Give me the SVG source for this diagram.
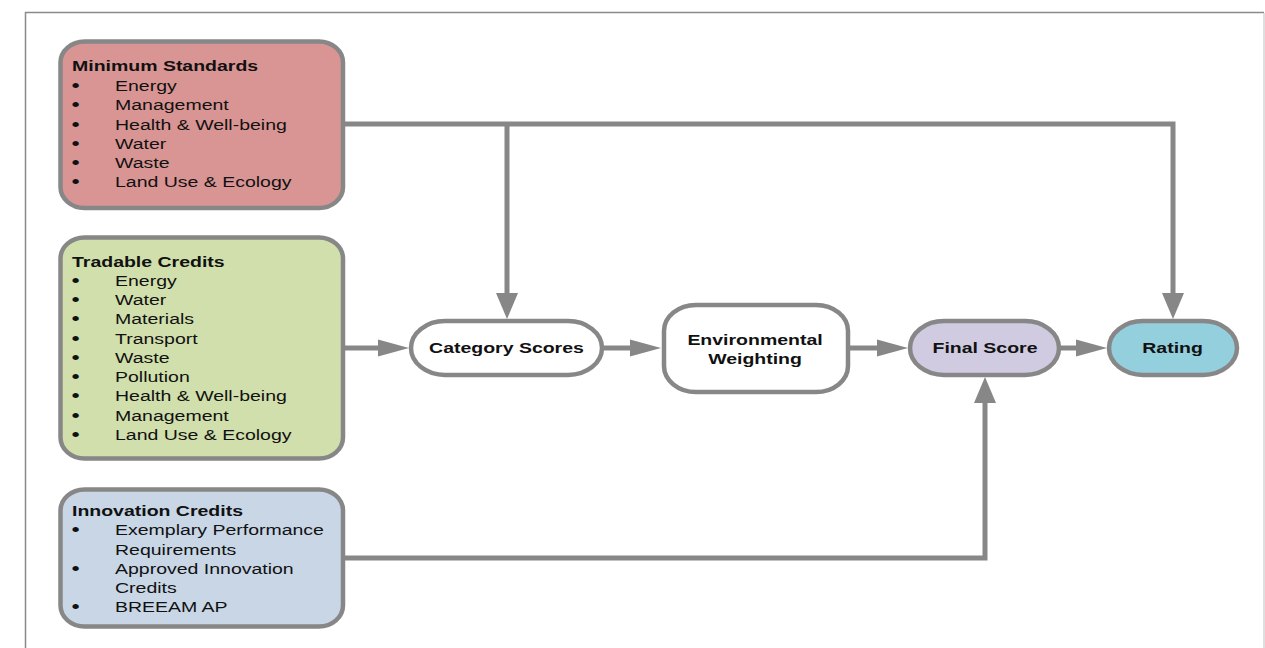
<svg xmlns="http://www.w3.org/2000/svg" width="1265" height="648" viewBox="0 0 1265 648">
<style>
.box{stroke:#878787;stroke-width:4.5}
.t{font-family:"Liberation Sans",Arial,Helvetica,sans-serif;font-size:15px;fill:#111}
.b{font-weight:bold}
.m{text-anchor:middle}
.d{font-size:18px}
.c{fill:none;stroke:#878787;stroke-width:5;stroke-linejoin:miter;stroke-linecap:butt}
.ah{fill:#878787}
</style>
<defs>
<marker id="ah" markerUnits="userSpaceOnUse" markerWidth="32" markerHeight="18" refX="0" refY="8.5" orient="auto" overflow="visible"><path class="ah" d="M0,0 L31,8.5 L0,17 Z"/></marker>
<marker id="av" markerUnits="userSpaceOnUse" markerWidth="27" markerHeight="22" refX="0" refY="11" orient="auto" overflow="visible"><path class="ah" d="M0,0 L26,11 L0,22 Z"/></marker>
</defs>
<rect width="1265" height="648" fill="#fff"/>
<g id="frame">
<line x1="25" y1="12.5" x2="1264" y2="12.5" stroke="#8a8a8a" stroke-width="1.5"/>
<line x1="25.5" y1="12" x2="25.5" y2="648" stroke="#8a8a8a" stroke-width="1.5"/>
<line x1="1264" y1="13" x2="1264" y2="648" stroke="#d4d4d4" stroke-width="1.5"/>
</g>
<g id="connectors">
<path class="c" d="M345,124 H1173 V293" marker-end="url(#av)"/>
<path class="c" d="M507,124 V293" marker-end="url(#av)"/>
<path class="c" d="M345,348 H378" marker-end="url(#ah)"/>
<path class="c" d="M604,348 H630" marker-end="url(#ah)"/>
<path class="c" d="M850,348 H877" marker-end="url(#ah)"/>
<path class="c" d="M1061,348 H1076" marker-end="url(#ah)"/>
<path class="c" d="M345,558 H985 V403" marker-end="url(#av)"/>
</g>
<g id="minimum-standards">
<rect class="box" x="60.5" y="41.5" width="282.5" height="166.5" rx="24" ry="21" fill="#d99594"/>
<g transform="scale(1.3,1)">
<text class="t b" x="55.4" y="71">Minimum Standards</text>
<text class="t d" x="55" y="92">•</text><text class="t" x="88.5" y="91">Energy</text>
<text class="t d" x="55" y="111.3">•</text><text class="t" x="88.5" y="110.3">Management</text>
<text class="t d" x="55" y="130.6">•</text><text class="t" x="88.5" y="129.6">Health &amp; Well-being</text>
<text class="t d" x="55" y="149.9">•</text><text class="t" x="88.5" y="148.9">Water</text>
<text class="t d" x="55" y="169.2">•</text><text class="t" x="88.5" y="168.2">Waste</text>
<text class="t d" x="55" y="188.5">•</text><text class="t" x="88.5" y="187.5">Land Use &amp; Ecology</text>
</g>
</g>
<g id="tradable-credits">
<rect class="box" x="60.5" y="237.5" width="282.5" height="221" rx="24" ry="21" fill="#d0dfab"/>
<g transform="scale(1.3,1)">
<text class="t b" x="55.4" y="267">Tradable Credits</text>
<text class="t d" x="55" y="287">•</text><text class="t" x="88.5" y="286">Energy</text>
<text class="t d" x="55" y="306.25">•</text><text class="t" x="88.5" y="305.25">Water</text>
<text class="t d" x="55" y="325.5">•</text><text class="t" x="88.5" y="324.5">Materials</text>
<text class="t d" x="55" y="344.75">•</text><text class="t" x="88.5" y="343.75">Transport</text>
<text class="t d" x="55" y="364">•</text><text class="t" x="88.5" y="363">Waste</text>
<text class="t d" x="55" y="383.25">•</text><text class="t" x="88.5" y="382.25">Pollution</text>
<text class="t d" x="55" y="402.5">•</text><text class="t" x="88.5" y="401.5">Health &amp; Well-being</text>
<text class="t d" x="55" y="421.75">•</text><text class="t" x="88.5" y="420.75">Management</text>
<text class="t d" x="55" y="441">•</text><text class="t" x="88.5" y="440">Land Use &amp; Ecology</text>
</g>
</g>
<g id="innovation-credits">
<rect class="box" x="60.5" y="489.5" width="282.5" height="137" rx="24" ry="21" fill="#c8d6e6"/>
<g transform="scale(1.3,1)">
<text class="t b" x="55.4" y="516">Innovation Credits</text>
<text class="t d" x="55" y="536.3">•</text><text class="t" x="88.5" y="535.3">Exemplary Performance</text>
<text class="t" x="88.5" y="554.6">Requirements</text>
<text class="t d" x="55" y="574.9">•</text><text class="t" x="88.5" y="573.9">Approved Innovation</text>
<text class="t" x="88.5" y="593.2">Credits</text>
<text class="t d" x="55" y="613.5">•</text><text class="t" x="88.5" y="612.5">BREEAM AP</text>
</g>
</g>
<g id="category-scores">
<rect class="box" x="411" y="321" width="191" height="54" rx="34" ry="27" fill="#fff"/>
<text class="t b m" transform="scale(1.3,1)" x="389.6" y="353">Category Scores</text>
</g>
<g id="environmental-weighting">
<rect class="box" x="664" y="305" width="184" height="87" rx="32" ry="26" fill="#fff"/>
<g transform="scale(1.3,1)">
<text class="t b m" x="580.8" y="345">Environmental</text>
<text class="t b m" x="580.8" y="364">Weighting</text>
</g>
</g>
<g id="final-score">
<rect class="box" x="910" y="321" width="149" height="54" rx="34" ry="27" fill="#d0cbe0"/>
<text class="t b m" transform="scale(1.3,1)" x="757.7" y="353">Final Score</text>
</g>
<g id="rating">
<rect class="box" x="1109" y="321" width="128" height="54" rx="34" ry="27" fill="#93cfdd"/>
<text class="t b m" transform="scale(1.3,1)" x="902" y="353">Rating</text>
</g>
</svg>
